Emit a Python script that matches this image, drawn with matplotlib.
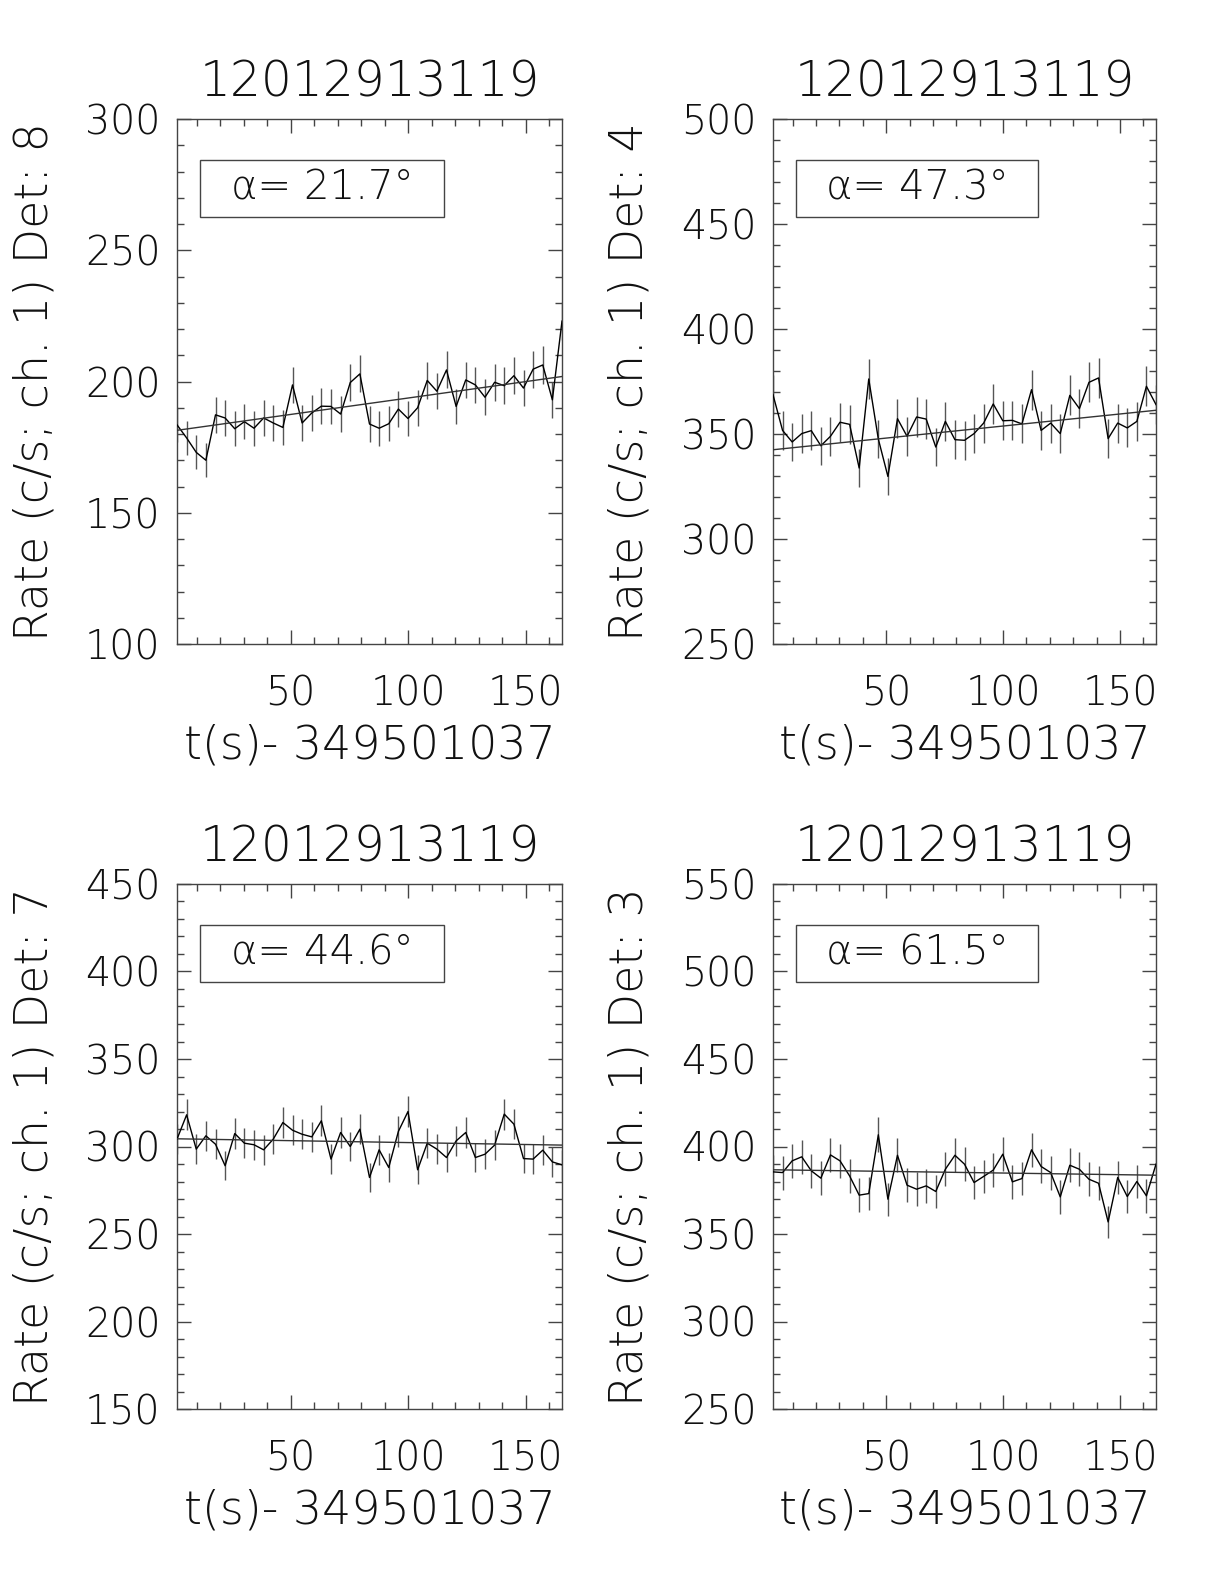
import numpy as np
import matplotlib
matplotlib.use("Agg")
import matplotlib.pyplot as plt
from matplotlib.ticker import MultipleLocator
from matplotlib.patches import Rectangle

# ---------------- data ----------------
title = "12012913119"
xlabel = "t(s)- 349501037"
t_start = 1.6
bin_size = 4.096
n_bins = 41

detectors = [8, 4, 7, 3]
alphas = [21.7, 47.3, 44.6, 61.5]
ylims = [(100, 300), (250, 500), (150, 450), (250, 550)]

rate_det8 = [183.5, 178.5, 173.0, 170.0, 187.3, 186.1, 182.0, 184.7, 182.2, 186.1,
             184.2, 182.5, 198.7, 184.2, 188.0, 190.6, 190.5, 187.6, 199.6, 202.9,
             183.8, 182.2, 183.9, 189.5, 185.9, 190.0, 200.4, 196.3, 204.4, 190.5,
             200.6, 198.7, 194.0, 199.7, 198.4, 202.2, 197.5, 204.7, 206.3, 193.0,
             223.0]
rate_det4 = [368.7, 351.7, 346.2, 350.2, 351.6, 344.4, 348.9, 355.6, 354.6, 333.8,
             376.2, 347.6, 329.8, 357.3, 348.9, 358.1, 357.1, 343.8, 356.0, 347.3,
             347.0, 350.2, 355.2, 364.3, 356.3, 356.5, 354.8, 371.1, 351.7, 355.2,
             350.2, 368.4, 362.1, 374.6, 376.7, 347.8, 355.2, 352.9, 356.0, 372.7,
             364.0]
rate_det7 = [304.2, 318.1, 298.5, 306.1, 301.3, 289.0, 307.4, 301.9, 301.0, 298.1,
             304.2, 313.7, 309.3, 307.0, 305.5, 314.7, 292.8, 308.0, 300.0, 309.9,
             282.3, 298.1, 288.0, 308.6, 320.0, 286.7, 301.9, 298.5, 293.7, 303.2,
             308.0, 293.7, 295.6, 300.8, 318.5, 312.8, 293.1, 292.8, 297.9, 291.2,
             289.5]
rate_det3 = [385.5, 385.1, 391.8, 394.1, 386.1, 381.9, 395.2, 391.8, 383.2, 372.2,
             373.1, 406.7, 369.9, 395.0, 377.9, 375.6, 377.5, 374.3, 387.0, 395.0,
             389.9, 379.4, 382.9, 386.5, 395.6, 379.8, 381.7, 398.1, 388.6, 385.1,
             371.2, 389.3, 387.0, 381.3, 379.0, 356.9, 382.3, 371.4, 380.0, 371.8,
             389.9]
rates = [rate_det8, rate_det4, rate_det7, rate_det3]

# linear fit values at the first and last time bin
fit_start = [181.4, 342.5, 304.4, 386.7]
fit_end = [201.9, 361.3, 300.8, 383.6]

# ---------------- plot ----------------
plt.rcParams['font.family'] = ['DejaVu Sans']
plt.rcParams['font.weight'] = 200

W, H = 1224, 1584
fig = plt.figure(figsize=(W / 100, H / 100), dpi=100)

TXT = '#111111'
lefts = [177, 773]
rights = [562, 1156]
tops = [119, 884]
bottoms = [644, 1409]
ylabel_x = [35, 630]

t = t_start + bin_size * np.arange(n_bins)

for k in range(4):
    r, c = divmod(k, 2)
    l, rr = lefts[c], rights[c]
    tp, bt = tops[r], bottoms[r]
    ax = fig.add_axes([l / W, 1 - bt / H, (rr - l) / W, (bt - tp) / H])
    y = np.array(rates[k])
    err = np.sqrt(y * bin_size) / bin_size
    ax.vlines(t, y - err, y + err, color='#555555', lw=1.0, zorder=2)
    ax.plot(t, y, color='black', lw=1.0, zorder=3)
    ax.plot([t[0], t[-1]], [fit_start[k], fit_end[k]], color='#333333', lw=1.0, zorder=3)
    ax.set_xlim(t[0], t[-1])
    ax.set_ylim(*ylims[k])
    ax.xaxis.set_major_locator(MultipleLocator(50))
    ax.xaxis.set_minor_locator(MultipleLocator(10))
    ax.yaxis.set_major_locator(MultipleLocator(50))
    ax.yaxis.set_minor_locator(MultipleLocator(10))
    ax.tick_params(which='both', direction='in', top=True, right=True,
                   color='#444444', width=1.0)
    ax.tick_params(which='major', length=10)
    ax.tick_params(which='minor', length=5)
    ax.tick_params(axis='x', which='major', pad=22, labelsize=28.5, labelcolor=TXT)
    ax.tick_params(axis='y', which='major', pad=12, labelsize=28.5, labelcolor=TXT)
    for sp in ax.spines.values():
        sp.set_color('#444444')
        sp.set_linewidth(1.0)
    ax.set_title(title, fontsize=35, color=TXT, pad=16, fontweight=200)
    ax.set_xlabel(xlabel, fontsize=33, color=TXT, labelpad=7, fontweight=200)
    fig.text(ylabel_x[c] / W, 1 - (tp + bt) / 2 / H,
             f"Rate (c/s; ch. 1) Det: {detectors[k]}", rotation=90,
             ha='center', va='center', fontsize=33, color=TXT, fontweight=200)
    ax.add_patch(Rectangle((0.06, 0.813), 0.633, 0.109, transform=ax.transAxes,
                           fill=False, edgecolor='#444444', lw=1.0, zorder=4))
    ax.text(0.377, 0.868, f"α= {alphas[k]:.1f}°", transform=ax.transAxes,
            ha='center', va='center', fontsize=29, color=TXT, fontweight=200)

fig.savefig("out.png", dpi=100)
